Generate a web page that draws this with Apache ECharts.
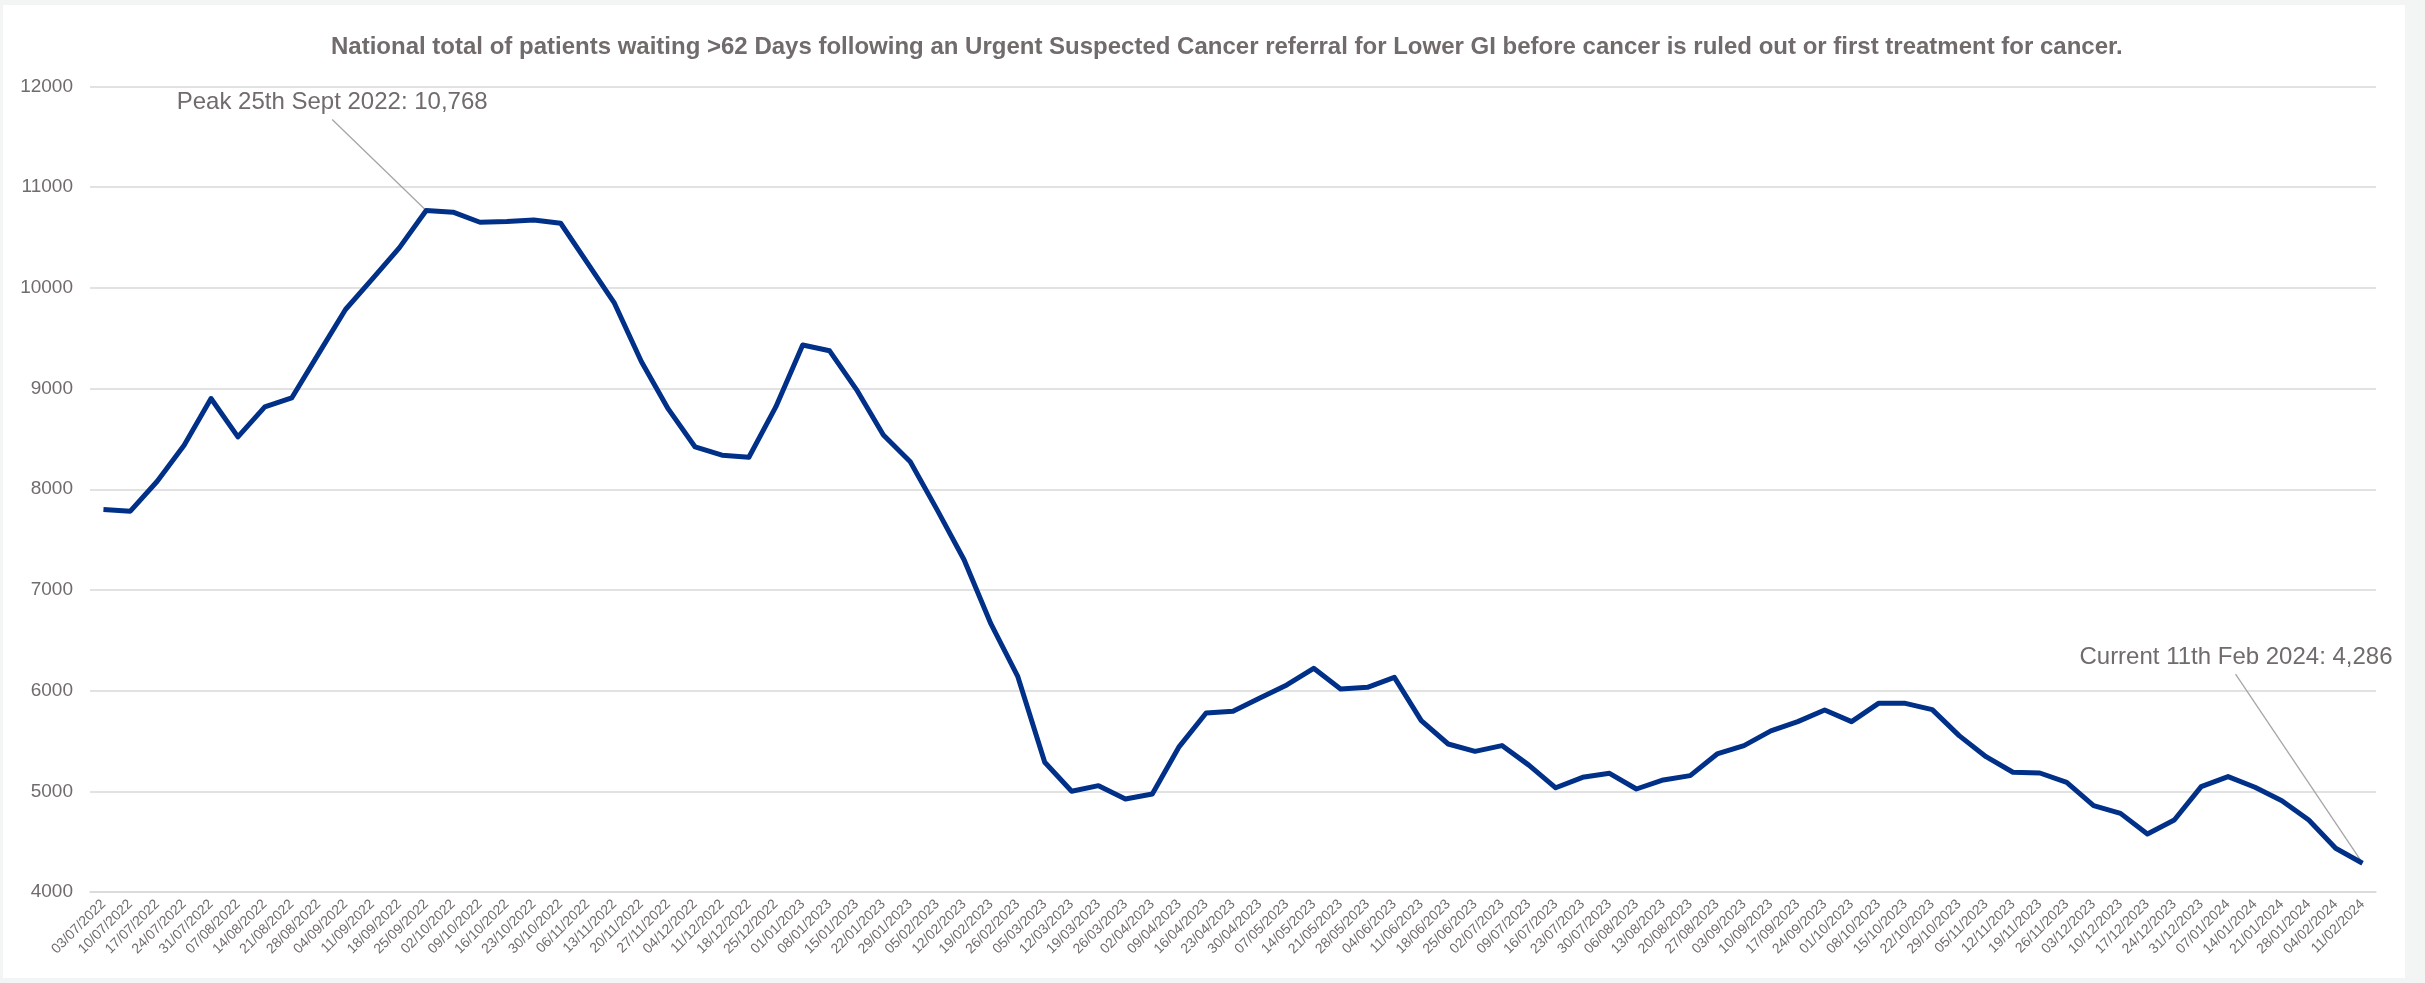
<!DOCTYPE html>
<html>
<head>
<meta charset="utf-8">
<script src="https://cdn.jsdelivr.net/npm/echarts@6/dist/echarts.min.js"></script>
<style>
  html, body { margin: 0; padding: 0; background: #f3f5f4; width: 2425px; height: 983px; overflow: hidden; }
  #chart { position: absolute; left: 3px; top: 5px; width: 2402px; height: 973px; background: #ffffff; }
</style>
</head>
<body>
<div id="chart"></div>
<script>
const titleText = 'National total of patients waiting >62 Days following an Urgent Suspected Cancer referral for Lower GI before cancer is ruled out or first treatment for cancer.';

const categories = [
  '03/07/2022','10/07/2022','17/07/2022','24/07/2022','31/07/2022','07/08/2022','14/08/2022','21/08/2022','28/08/2022',
  '04/09/2022','11/09/2022','18/09/2022','25/09/2022','02/10/2022','09/10/2022','16/10/2022','23/10/2022','30/10/2022',
  '06/11/2022','13/11/2022','20/11/2022','27/11/2022','04/12/2022','11/12/2022','18/12/2022','25/12/2022',
  '01/01/2023','08/01/2023','15/01/2023','22/01/2023','29/01/2023','05/02/2023','12/02/2023','19/02/2023','26/02/2023',
  '05/03/2023','12/03/2023','19/03/2023','26/03/2023','02/04/2023','09/04/2023','16/04/2023','23/04/2023','30/04/2023',
  '07/05/2023','14/05/2023','21/05/2023','28/05/2023','04/06/2023','11/06/2023','18/06/2023','25/06/2023',
  '02/07/2023','09/07/2023','16/07/2023','23/07/2023','30/07/2023','06/08/2023','13/08/2023','20/08/2023','27/08/2023',
  '03/09/2023','10/09/2023','17/09/2023','24/09/2023','01/10/2023','08/10/2023','15/10/2023','22/10/2023','29/10/2023',
  '05/11/2023','12/11/2023','19/11/2023','26/11/2023','03/12/2023','10/12/2023','17/12/2023','24/12/2023','31/12/2023',
  '07/01/2024','14/01/2024','21/01/2024','28/01/2024','04/02/2024','11/02/2024'
];

const waiting = [
  7798, 7782, 8079, 8437, 8901, 8520, 8818, 8907, 9347, 9785,
  10089, 10397, 10768, 10752, 10652, 10659, 10675, 10642,
  10245, 9848, 9268, 8798, 8420, 8338, 8318, 8818, 9433, 9375,
  8990, 8538, 8273, 7795, 7300, 6662, 6139, 5288, 5000, 5056,
  4924, 4974, 5444, 5778, 5795, 5927, 6056, 6222, 6017, 6033,
  6132, 5702, 5470, 5397, 5454, 5260, 5035, 5139, 5179, 5023,
  5113, 5156, 5371, 5454, 5600, 5692, 5808, 5692, 5874, 5874,
  5811, 5553, 5344, 5189, 5182, 5089, 4858, 4781, 4576, 4715,
  5046, 5146, 5040, 4907, 4715, 4434, 4286
];

const yTicks = { min: 4000, max: 12000, interval: 1000 };

const annotations = [
  { index: 12, text: 'Peak 25th Sept 2022: 10,768' },
  { index: 84, text: 'Current 11th Feb 2024: 4,286' }
];

const textColor = '#716b6b';
const fontFam = 'Liberation Sans, Arial, sans-serif';
const chart = echarts.init(document.getElementById('chart'), null, { renderer: 'canvas' });

chart.setOption({
  animation: false,
  backgroundColor: '#ffffff',
  title: {
    text: titleText,
    left: 328,
    top: 30,
    padding: 0,
    textStyle: { color: textColor, fontSize: 24, fontWeight: 'bold', fontFamily: fontFam }
  },
  grid: { left: 87, right: 29, top: 81.5, bottom: 86 },
  xAxis: {
    type: 'category',
    data: categories,
    boundaryGap: true,
    axisLine: { show: true, lineStyle: { color: '#d9d9d9', width: 1.5 } },
    axisTick: { show: false },
    axisLabel: {
      interval: 0,
      rotate: 45,
      margin: 10,
      color: textColor,
      fontSize: 14,
      fontFamily: fontFam
    },
    splitLine: { show: false }
  },
  yAxis: {
    type: 'value',
    min: yTicks.min,
    max: yTicks.max,
    interval: yTicks.interval,
    axisLine: { show: false },
    axisTick: { show: false },
    axisLabel: { color: textColor, fontSize: 19, margin: 17, fontFamily: fontFam,
      formatter: function (v) { return String(v); } },
    splitLine: { lineStyle: { color: '#d9d9d9', width: 1.5 } }
  },
  series: [{
    type: 'line',
    data: waiting,
    showSymbol: false,
    symbol: 'none',
    lineStyle: { color: '#003087', width: 5, join: 'round' },
    itemStyle: { color: '#003087' }
  }]
});

function drawAnnotations() {
  const pPeak = chart.convertToPixel({ seriesIndex: 0 }, [annotations[0].index, waiting[annotations[0].index]]);
  const pCur = chart.convertToPixel({ seriesIndex: 0 }, [annotations[1].index, waiting[annotations[1].index]]);
  const labelStyle = { fill: textColor, fontSize: 24, fontFamily: fontFam };
  chart.setOption({
    graphic: [
      { type: 'line', silent: true, shape: { x1: pPeak[0], y1: pPeak[1], x2: pPeak[0] - 94, y2: pPeak[1] - 91 },
        style: { stroke: '#a6a6a6', lineWidth: 1.3 } },
      { type: 'text', silent: true, x: pPeak[0] - 94, y: pPeak[1] - 108,
        style: Object.assign({ text: annotations[0].text, textAlign: 'center', textVerticalAlign: 'middle' }, labelStyle) },
      { type: 'line', silent: true, shape: { x1: pCur[0], y1: pCur[1], x2: pCur[0] - 127, y2: pCur[1] - 189 },
        style: { stroke: '#a6a6a6', lineWidth: 1.3 } },
      { type: 'text', silent: true, x: pCur[0] + 30, y: pCur[1] - 206,
        style: Object.assign({ text: annotations[1].text, textAlign: 'right', textVerticalAlign: 'middle' }, labelStyle) }
    ]
  });
}
drawAnnotations();
</script>
</body>
</html>
